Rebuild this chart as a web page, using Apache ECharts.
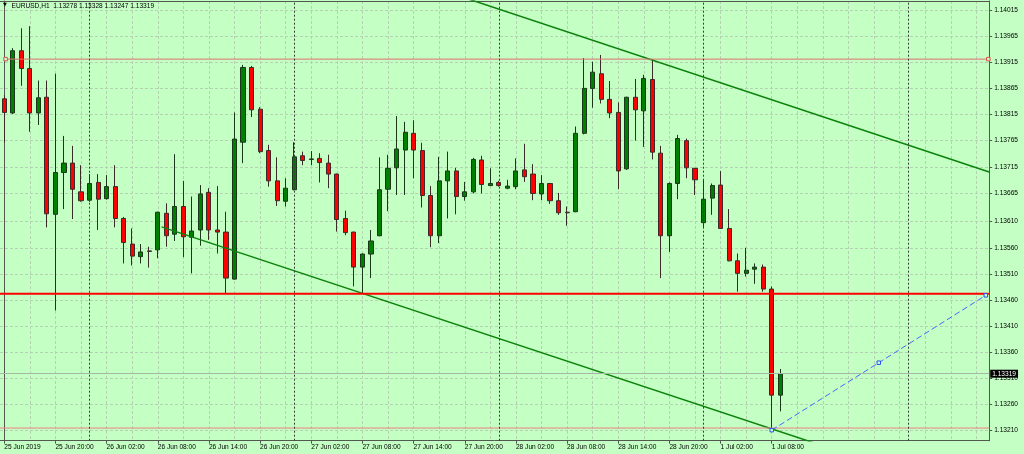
<!DOCTYPE html>
<html><head><meta charset="utf-8">
<script src="https://cdn.jsdelivr.net/npm/echarts@6/dist/echarts.min.js"></script>
<style>html,body{margin:0;padding:0;background:#C4FFC4;}#c{width:1024px;height:454px;}</style>
</head><body><div id="c"></div>
<script>
// ---- data (EURUSD, H1) ----
const symbolTitle = 'EURUSD,H1  1.13278 1.13328 1.13247 1.13319';
const firstLabel = '25 Jun 2019';
const sessionDays = [['25 Jun', 14, 23], ['26 Jun', 0, 23], ['27 Jun', 0, 23], ['28 Jun', 0, 23], ['1 Jul', 0, 9]];
const futureSlots = 24;

const opens = [1.13845,1.13818,1.13937,1.13903,1.13818,1.13848,1.13624,1.13704,1.13722,1.13667,
1.13651,1.13685,1.13654,1.13677,1.13616,1.13567,1.13543,1.13554,1.13556,1.13626,
1.13586,1.13639,1.13580,1.13594,1.13666,1.13594,1.13590,1.13500,1.13762,1.13905,
1.13825,1.13746,1.13688,1.13649,1.13671,1.13736,1.13729,1.13731,1.13722,1.13701,
1.13616,1.13590,1.13523,1.13548,1.13583,1.13672,1.13713,1.13747,1.13779,1.13746,
1.13660,1.13583,1.13688,1.13707,1.13658,1.13667,1.13728,1.13679,1.13685,1.13674,
1.13677,1.13709,1.13701,1.13663,1.13683,1.13650,1.13628,1.13629,1.13779,1.13865,
1.13893,1.13844,1.13819,1.13711,1.13848,1.13822,1.13882,1.13741,1.13583,1.13683,
1.13765,1.13712,1.13608,1.13655,1.13680,1.13597,1.13535,1.13511,1.13519,1.13523,
1.13481,1.13278];
const closes = [1.13819,1.13937,1.13903,1.13818,1.13847,1.13625,1.13704,1.13722,1.13672,1.13650,
1.13683,1.13653,1.13677,1.13616,1.13570,1.13544,1.13552,1.13553,1.13628,1.13583,
1.13639,1.13581,1.13592,1.13663,1.13594,1.13590,1.13502,1.13768,1.13905,1.13824,
1.13744,1.13688,1.13650,1.13674,1.13734,1.13727,1.13730,1.13723,1.13701,1.13614,
1.13589,1.13523,1.13548,1.13573,1.13671,1.13712,1.13749,1.13781,1.13747,1.13660,
1.13583,1.13688,1.13707,1.13658,1.13667,1.13729,1.13681,1.13683,1.13679,1.13678,
1.13707,1.13696,1.13664,1.13683,1.13650,1.13627,1.13627,1.13779,1.13865,1.13896,
1.13844,1.13818,1.13707,1.13848,1.13824,1.13884,1.13743,1.13583,1.13683,1.13769,
1.13713,1.13690,1.13653,1.13679,1.13597,1.13535,1.13511,1.13517,1.13523,1.13481,
1.13278,1.13319];
const lows = [1.13762,1.13816,1.13870,1.13782,1.13795,1.13599,1.13440,1.13634,1.13615,1.13648,
1.13648,1.13594,1.13652,1.13599,1.13530,1.13526,1.13530,1.13522,1.13540,1.13562,
1.13573,1.13542,1.13511,1.13564,1.13575,1.13549,1.13472,1.13499,1.13722,1.13810,
1.13741,1.13677,1.13640,1.13639,1.13670,1.13718,1.13718,1.13685,1.13674,1.13591,
1.13584,1.13486,1.13472,1.13502,1.13582,1.13630,1.13661,1.13661,1.13693,1.13637,
1.13561,1.13569,1.13616,1.13624,1.13650,1.13664,1.13664,1.13678,1.13677,1.13672,
1.13672,1.13686,1.13651,1.13651,1.13644,1.13623,1.13602,1.13628,1.13777,1.13828,
1.13836,1.13808,1.13672,1.13709,1.13765,1.13753,1.13729,1.13502,1.13552,1.13653,
1.13693,1.13661,1.13600,1.13623,1.13596,1.13534,1.13476,1.13505,1.13491,1.13476,
1.13211,1.13247];
const highs = [1.13852,1.13942,1.13980,1.13984,1.13880,1.13880,1.13893,1.13774,1.13755,1.13718,
1.13701,1.13701,1.13699,1.13718,1.13619,1.13597,1.13567,1.13562,1.13629,1.13645,
1.13739,1.13688,1.13658,1.13680,1.13674,1.13678,1.13629,1.13819,1.13910,1.13908,
1.13829,1.13757,1.13733,1.13693,1.13762,1.13744,1.13745,1.13741,1.13738,1.13702,
1.13631,1.13591,1.13549,1.13594,1.13733,1.13738,1.13812,1.13801,1.13804,1.13761,
1.13678,1.13734,1.13744,1.13713,1.13686,1.13732,1.13736,1.13712,1.13688,1.13690,
1.13731,1.13759,1.13720,1.13699,1.13684,1.13665,1.13639,1.13792,1.13923,1.13916,
1.13929,1.13879,1.13838,1.13849,1.13883,1.13891,1.13921,1.13755,1.13685,1.13776,
1.13769,1.13713,1.13690,1.13683,1.13707,1.13634,1.13549,1.13560,1.13530,1.13528,
1.13486,1.13328];

const priceTicks = [1.14015,1.13965,1.13915,1.13865,1.13815,1.13765,1.13715,1.13665,1.13610,
1.13560,1.13510,1.13460,1.13410,1.13360,1.13310,1.13260,1.13210];
const bidPrice = 1.13319;
const daySeparators = [10, 34, 58, 82, 106];        // bar index of each midnight
const upperChannel = [[50, 1.14060], [115.5, 1.13705]];
const lowerChannel = [[18.45, 1.13600], [96, 1.13181]];
const resistanceLine = [[0.16, 1.13921], [115.4, 1.13921]];
const supportLine = [[-0.5, 1.13472], [115.5, 1.13472]];
const lowLine = [[-0.5, 1.13215], [115.5, 1.13215]];
const blueTrend = [[90, 1.13211], [102.55, 1.13340], [115.1, 1.13469]];

// ---- build categories ----
const categories = [];
sessionDays.forEach(([d, h0, h1]) => {
  for (let h = h0; h <= h1; h++) categories.push(d + ' ' + String(h).padStart(2, '0') + ':00');
});
for (let i = 0; i < futureSlots; i++) categories.push('');
const slotCount = categories.length;
const vGrid = [];
for (let i = 0; i < slotCount - 1; i += 3) vGrid.push(i);

const candles = opens.map((o, i) => [o, closes[i], lows[i], highs[i]]);

const BG = '#C4FFC4';
const FRAME = '#505850';
const FONT = 'Liberation Sans, Arial, sans-serif';
const FS = 6.6;
const labelEvery = (i, v) => i % 6 === 0 && v !== '';

const chart = echarts.init(document.getElementById('c'), null, {renderer: 'canvas'});
chart.setOption({
  animation: false,
  backgroundColor: BG,
  textStyle: {fontFamily: FONT},
  title: [
    {text: '\u25BC', left: 3, top: 2.6, padding: 0, textStyle: {fontSize: 5, color: '#000', fontWeight: 'normal', fontFamily: 'DejaVu Sans'}},
    {text: symbolTitle, left: 11.5, top: 2.4, padding: 0, textStyle: {fontSize: FS, color: '#000', fontWeight: 'normal', fontFamily: FONT}}
  ],
  grid: {left: -2.675, right: 34.8, top: 1, bottom: 13.3, containLabel: false},
  xAxis: [
    {
      type: 'category', data: categories, boundaryGap: true,
      axisLine: {show: true, lineStyle: {color: FRAME, width: 1}},
      axisTick: {show: true, alignWithLabel: true, interval: labelEvery, length: 3, lineStyle: {color: FRAME}},
      axisLabel: {show: true, interval: labelEvery, align: 'left', margin: 3, fontSize: FS, color: '#000',
        formatter: (v, i) => i === 0 ? firstLabel : v},
      splitLine: {show: false}
    },
    {
      type: 'value', position: 'top', min: -0.5, max: slotCount - 0.5,
      axisLine: {show: true, onZero: false, lineStyle: {color: FRAME, width: 1}},
      axisTick: {show: false, customValues: vGrid},
      axisLabel: {show: false, customValues: vGrid},
      splitLine: {show: true, lineStyle: {color: '#b2d2b2', type: [3, 2], width: 1}}
    }
  ],
  yAxis: [
    {
      type: 'value', position: 'right', min: 1.131908, max: 1.140322, scale: true,
      axisLine: {show: true, onZero: false, lineStyle: {color: FRAME, width: 1}},
      axisTick: {show: true, length: 3, customValues: priceTicks, lineStyle: {color: FRAME}},
      axisLabel: {show: true, customValues: priceTicks, margin: 5, fontSize: FS, color: '#000',
        formatter: v => v.toFixed(5)},
      splitLine: {show: true, lineStyle: {color: '#b2d2b2', type: [3, 2], width: 1}}
    },
    {
      type: 'value', position: 'left', offset: -4.4, min: 0, max: 1,
      axisLine: {show: true, onZero: false, lineStyle: {color: FRAME, width: 1}},
      axisTick: {show: false}, axisLabel: {show: false}, splitLine: {show: false}
    }
  ],
  series: [
    {
      name: 'separators', type: 'line', xAxisIndex: 1, yAxisIndex: 0, data: [], z: 1, silent: true,
      markLine: {symbol: 'none', silent: true, label: {show: false},
        lineStyle: {color: '#3a3a3a', type: [2, 2], width: 1},
        data: daySeparators.map(v => ({xAxis: v}))}
    },
    {
      name: 'EURUSD,H1', type: 'candlestick', xAxisIndex: 0, yAxisIndex: 0, data: candles,
      barWidth: 4.6, z: 3,
      itemStyle: {color: '#008000', color0: '#FF0000', borderColor: '#1c361c', borderColor0: '#3a2a2a', borderWidth: 1},
      markLine: {symbol: 'none', silent: true, precision: 5,
        lineStyle: {color: '#a6b8a6', type: 'solid', width: 1},
        label: {show: true, position: 'end', distance: 1, formatter: () => bidPrice.toFixed(5),
          backgroundColor: '#000', color: '#fff', fontSize: FS, padding: [1, 2, 0, 2], fontFamily: FONT},
        data: [{yAxis: bidPrice}]}
    },
    {name: 'upper', type: 'line', xAxisIndex: 1, data: upperChannel, symbol: 'none', z: 4,
      lineStyle: {color: '#0b820b', width: 1.5}},
    {name: 'lower', type: 'line', xAxisIndex: 1, data: lowerChannel, symbol: 'none', z: 4,
      lineStyle: {color: '#0b820b', width: 1.5}},
    {name: 'resistance', type: 'line', xAxisIndex: 1, data: resistanceLine, symbol: 'rect', symbolSize: 3.5, z: 4,
      lineStyle: {color: '#e07070', width: 1}, itemStyle: {color: BG, borderColor: '#e05050', borderWidth: 1}},
    {name: 'support', type: 'line', xAxisIndex: 1, data: supportLine, symbol: 'none', z: 5,
      lineStyle: {color: '#ff0000', width: 2}},
    {name: 'low', type: 'line', xAxisIndex: 1, data: lowLine, symbol: 'none', z: 4,
      lineStyle: {color: '#ee8080', width: 1}},
    {name: 'blue', type: 'line', xAxisIndex: 1, data: blueTrend, symbol: 'rect', symbolSize: 3.5, z: 5,
      lineStyle: {color: '#4a66ff', width: 1, type: [6, 3]}, itemStyle: {color: BG, borderColor: '#3050ff', borderWidth: 1}}
  ]
});
</script></body></html>
